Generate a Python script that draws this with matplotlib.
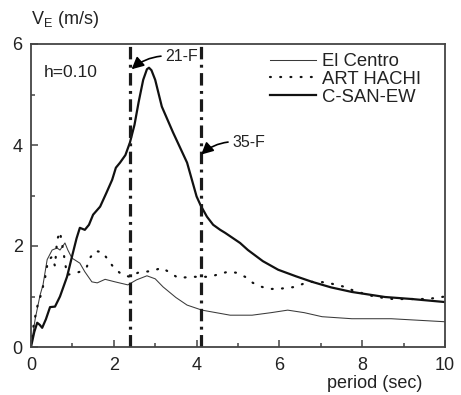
import matplotlib
matplotlib.use("Agg")
import matplotlib.pyplot as plt
from matplotlib.ticker import MultipleLocator

plt.rcParams['font.family'] = ['Liberation Sans', 'DejaVu Sans']
plt.rcParams['mathtext.fontset'] = 'custom'
plt.rcParams['mathtext.rm'] = 'Liberation Sans'
plt.rcParams['mathtext.it'] = 'Liberation Sans'

# ---- data ----
csan_x = [0.0, 0.08, 0.15, 0.21, 0.27, 0.36, 0.46, 0.58, 0.70, 0.87, 0.99, 1.10, 1.18,
          1.30, 1.40, 1.50, 1.67, 1.82, 1.96, 2.05, 2.15, 2.28, 2.39, 2.50, 2.60, 2.71,
          2.80, 2.85, 2.91, 3.00, 3.16, 3.43, 3.77, 4.00, 4.10, 4.25, 4.40, 4.57, 4.69,
          5.05, 5.24, 5.60, 5.97, 6.40, 6.79, 7.25, 7.75, 8.55, 9.20, 10.0]
csan_y = [0.0, 0.30, 0.48, 0.44, 0.38, 0.55, 0.79, 0.80, 1.00, 1.39, 1.79, 2.15, 2.36,
          2.32, 2.42, 2.62, 2.78, 3.05, 3.31, 3.55, 3.65, 3.80, 4.05, 4.40, 4.85, 5.29,
          5.50, 5.53, 5.48, 5.29, 4.76, 4.25, 3.65, 2.98, 2.80, 2.58, 2.42, 2.32, 2.26,
          2.06, 1.92, 1.70, 1.53, 1.40, 1.29, 1.18, 1.09, 0.99, 0.95, 0.89]

elc_x = [0.0, 0.10, 0.22, 0.29, 0.39, 0.51, 0.63, 0.70, 0.82, 0.89, 0.99, 1.18, 1.30,
         1.47, 1.60, 1.79, 2.03, 2.34, 2.55, 2.80, 3.00, 3.19, 3.50, 3.77, 4.13, 4.81,
         5.34, 5.80, 6.20, 6.60, 7.03, 7.75, 8.70, 10.0]
elc_y = [0.0, 0.55, 1.03, 1.23, 1.73, 1.92, 1.96, 1.92, 2.06, 1.92, 1.76, 1.66, 1.49,
         1.29, 1.27, 1.34, 1.29, 1.23, 1.33, 1.41, 1.35, 1.19, 0.98, 0.83, 0.73, 0.63,
         0.63, 0.68, 0.73, 0.68, 0.60, 0.56, 0.56, 0.50]

art_x = [0.0, 0.07, 0.17, 0.24, 0.34, 0.41, 0.51, 0.58, 0.63, 0.70, 0.78, 0.87, 1.01,
         1.18, 1.35, 1.42, 1.55, 1.72, 1.86, 2.00, 2.20, 2.39, 2.58, 2.95, 3.16, 3.36,
         3.55, 3.96, 4.32, 4.57, 4.76, 4.97, 5.17, 5.36, 5.58, 5.77, 5.97, 6.18, 6.38,
         6.57, 6.79, 6.98, 7.17, 7.39, 7.58, 7.75, 8.14, 8.36, 8.74, 9.15, 9.56, 9.76, 10.0]
art_y = [0.0, 0.48, 0.87, 1.03, 1.37, 1.71, 1.79, 1.60, 2.12, 2.28, 1.90, 1.43, 1.45,
         1.49, 1.59, 1.76, 1.90, 1.88, 1.73, 1.57, 1.43, 1.39, 1.47, 1.51, 1.57, 1.47,
         1.37, 1.39, 1.39, 1.45, 1.49, 1.47, 1.39, 1.27, 1.19, 1.15, 1.15, 1.17, 1.19,
         1.25, 1.29, 1.29, 1.27, 1.23, 1.19, 1.13, 1.03, 0.99, 0.95, 0.95, 0.95, 0.97, 1.00]

floor_periods = [2.4, 4.1]
floor_labels = ["21-F", "35-F"]
label_pos = [(3.24, 5.75), (4.86, 4.05)]
arrow_tips = [(2.43, 5.50), (4.11, 3.81)]

# ---- figure ----
fig = plt.figure(figsize=(4.61, 3.95), dpi=100)
ax = fig.add_axes([31/461, 1-347/395, (445-31)/461, (347-44)/395])

ax.plot(elc_x, elc_y, color='#3a3a3a', lw=0.75, label='El Centro')
ax.plot(art_x, art_y, color='#111111', lw=1.6, linestyle=(0, (0.4, 4.2)),
        dash_capstyle='round', label='ART HACHI')
ax.plot(csan_x, csan_y, color='#111111', lw=1.6, label='C-SAN-EW')

for p in floor_periods:
    ax.axvline(p, color='#1a1a1a', lw=2.3, linestyle=(0, (3.9, 1.7, 0.9, 1.7)))

for lab, (tx, ty), (ax_, ay) in zip(floor_labels, label_pos, arrow_tips):
    ax.annotate(lab, xy=(ax_, ay), xytext=(tx, ty), ha='left', va='center',
                fontsize=11.5, color='#222222',
                arrowprops=dict(arrowstyle='-|>', color='black', lw=1.2,
                                mutation_scale=18, shrinkA=1, shrinkB=0,
                                relpos=(0, 0.55),
                                connectionstyle='arc3,rad=0.18'))

ax.text(0.032, 0.905, 'h=0.10', transform=ax.transAxes, fontsize=12.5,
        ha='left', va='center', color='#222222')

ax.set_xlim(0, 10)
ax.set_ylim(0, 6)
ax.xaxis.set_major_locator(MultipleLocator(2))
ax.xaxis.set_minor_locator(MultipleLocator(1))
ax.yaxis.set_major_locator(MultipleLocator(2))
ax.yaxis.set_minor_locator(MultipleLocator(1))
ax.tick_params(which='both', direction='in', top=False, right=False,
               colors='#444444', labelcolor='#222222', labelsize=13, width=1.1)
ax.tick_params(which='major', length=5, pad=6)
ax.tick_params(which='minor', length=3)
ax.tick_params(axis='x', pad=7)
for s in ax.spines.values():
    s.set_color('#444444')
    s.set_linewidth(1.3)

leg = ax.legend(loc='upper left', bbox_to_anchor=((270-31)/414, 1-(53-44)/303),
                frameon=False, fontsize=13.3, handlelength=2.5, handletextpad=0.3,
                labelspacing=0.05, borderpad=0, borderaxespad=0)
for t in leg.get_texts():
    t.set_color('#222222')

fig.text(31/461, 1-20/395, r'V$_{\mathrm{E}}$ (m/s)', fontsize=13, ha='left',
         va='center', color='#222222')
fig.text(375/461, 1-383/395, 'period (sec)', fontsize=13, ha='center',
         va='center', color='#222222')

fig.savefig('out.png', dpi=100)
